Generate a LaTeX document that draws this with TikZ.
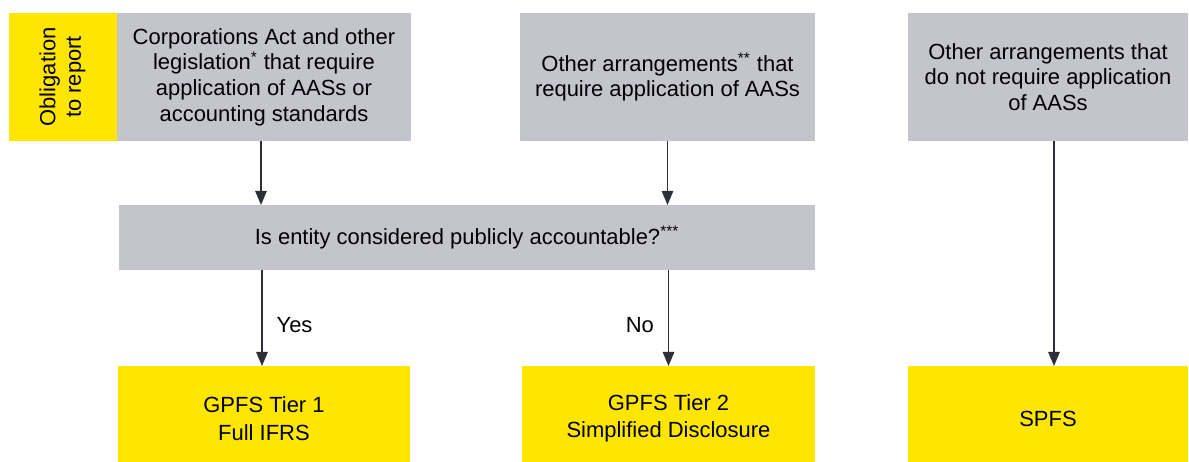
\documentclass[tikz,border=0pt]{standalone}
\usepackage{fontspec}
\setmainfont{Liberation Sans}
\usetikzlibrary{arrows.meta}
\definecolor{eygrey}{RGB}{196,196,205}
\definecolor{eyyellow}{RGB}{255,230,0}
\definecolor{eydark}{RGB}{46,46,56}

\begin{document}
\begin{tikzpicture}[>={Triangle[width=6.5pt,length=8pt]},font=\fontsize{12.5}{14.6}\selectfont,
    greybox/.style={fill=eygrey,inner sep=0pt,outer sep=0pt,align=center},
    yellowbox/.style={fill=eyyellow,inner sep=0pt,outer sep=0pt,align=center},
    arr/.style={->,draw=eydark,line width=0.85pt}]
            \useasboundingbox (0,0) rectangle (23.78,9.24);
            % top row
            \node[yellowbox,minimum width=2.16cm,minimum height=2.56cm] (oblig) at (1.26,7.70) {\rotatebox{90}{\begin{tabular}{@{}c@{}}Obligation\\to report\end{tabular}}};
            \node[greybox,minimum width=5.88cm,minimum height=2.56cm] (corp) at (5.28,7.70) {Corporations Act and other\\legislation\textsuperscript{*} that require\\application of AASs or\\accounting standards};
            \node[greybox,minimum width=5.90cm,minimum height=2.56cm] (other) at (13.35,7.70) {Other arrangements\textsuperscript{**} that\\require application of AASs};
            \node[greybox,minimum width=5.60cm,minimum height=2.56cm] (noaas) at (20.96,7.70) {Other arrangements that\\do not require application\\of AASs};
            % question
            \node[greybox,minimum width=13.92cm,minimum height=1.30cm] (quest) at (9.34,4.49) {Is entity considered publicly accountable?\textsuperscript{***}};
            % outcomes (run past the lower edge)
            \node[yellowbox,minimum width=5.84cm,minimum height=2.10cm] (tier1) at (5.28,0.87) {GPFS Tier 1\\[1pt]Full IFRS};
            \node[yellowbox,minimum width=5.86cm,minimum height=2.10cm] (tier2) at (13.37,0.87) {GPFS Tier 2\\[1pt]Simplified Disclosure};
            \node[yellowbox,minimum width=5.60cm,minimum height=2.10cm] (spfs) at (20.96,0.87) {SPFS};
            % arrows
            \draw[arr] ([xshift=-0.06cm]corp.south) -- ([xshift=-0.06cm]corp.south |- quest.north);
            \draw[arr] (other.south) -- (other.south |- quest.north);
            \draw[arr] ([xshift=-0.04cm]quest.south -| tier1.north) -- ([xshift=-0.04cm]tier1.north) node[right=0.16cm,pos=0.57]{Yes};
            \draw[arr] (quest.south -| tier2.north) -- (tier2.north) node[left=0.16cm,pos=0.57]{No};
            \draw[arr] ([xshift=0.12cm]noaas.south) -- ([xshift=0.12cm]spfs.north);
        \end{tikzpicture}
\end{document}
